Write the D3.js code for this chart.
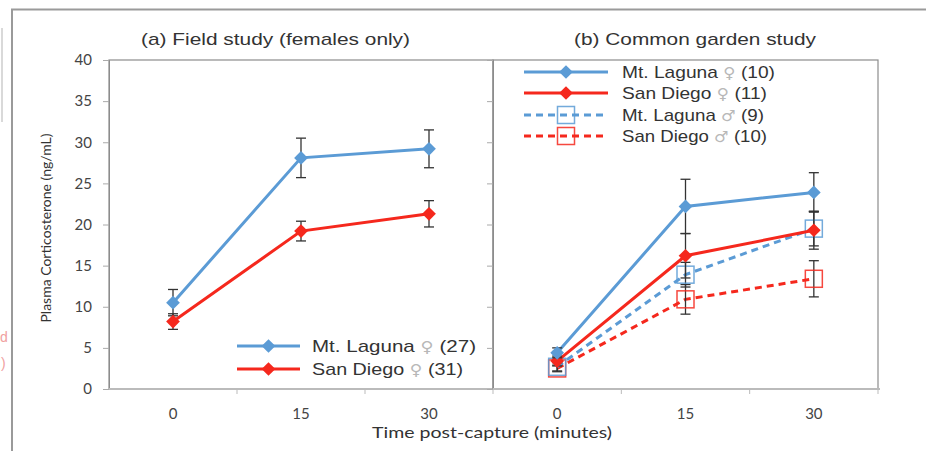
<!DOCTYPE html>
<html>
<head>
<meta charset="utf-8">
<script src="https://cdn.jsdelivr.net/npm/d3@7"></script>
<style>
  body { margin: 0; background: #fff; }
  text { font-family: "Liberation Sans", Arial, sans-serif; fill: #333; }
</style>
</head>
<body>
<svg id="chart"></svg>
<script>
// data
var times = ["0", "15", "30"];
var yTicks = [0, 5, 10, 15, 20, 25, 30, 35, 40];

// (a) field study, females
var fieldMtLaguna = [10.5, 28.1, 29.2];
var fieldMtLagunaErr = [1.6, 2.4, 2.3];
var fieldSanDiego = [8.2, 19.2, 21.3];
var fieldSanDiegoErr = [0.95, 1.2, 1.6];

// (b) common garden study
var gardenMtLagunaF = [4.4, 22.2, 23.9];
var gardenMtLagunaFErr = [0.6, 3.3, 2.4];
var gardenSanDiegoF = [3.4, 16.2, 19.3];
var gardenSanDiegoFErr = [0.6, 2.7, 2.3];
var gardenMtLagunaM = [2.7, 13.9, 19.5];
var gardenMtLagunaMErr = [0.5, 1.5, 2.1];
var gardenSanDiegoM = [2.5, 10.9, 13.4];
var gardenSanDiegoMErr = [0.4, 1.8, 2.2];

var blue = "#5b9bd5", red = "#f5281d", errColor = "#333";

var width = 926, height = 451;
var svg = d3.select('#chart').attr('width', width).attr('height', height);

// page frame + leftovers of the neighbouring page at the edge
svg.append('path')
  .attr('d', 'M12,451 L12,9.5 L926,9.5')
  .attr('fill', 'none').attr('stroke', '#9a9a9a').attr('stroke-width', 2);
svg.append('line').attr('x1', 2).attr('x2', 2).attr('y1', 28).attr('y2', 122)
  .attr('stroke', '#ccc').attr('stroke-width', 1.5);
svg.append('text').attr('x', 0).attr('y', 342).style('font-size', '14px').style('fill', '#f0a0a0').text('d');
svg.append('text').attr('x', 1).attr('y', 368).style('font-size', '14px').style('fill', '#f0a0a0').text(')');

var y = d3.scaleLinear().domain([0, 40]).range([389, 60]);

var panels = [
  { title: "(a) Field study (females only)", tx: 141, tw: 269, x0: 109, x1: 493, labels: true,
    series: [
      { vals: fieldMtLaguna, err: fieldMtLagunaErr, color: blue, dash: null, shape: 'diamond' },
      { vals: fieldSanDiego, err: fieldSanDiegoErr, color: red, dash: null, shape: 'diamond' }
    ] },
  { title: "(b) Common garden study", tx: 574, tw: 242, x0: 493, x1: 878, labels: false,
    series: [
      { vals: gardenSanDiegoM, err: gardenSanDiegoMErr, color: red, dash: '7,5', shape: 'square' },
      { vals: gardenMtLagunaM, err: gardenMtLagunaMErr, color: blue, dash: '7,5', shape: 'square' },
      { vals: gardenSanDiegoF, err: gardenSanDiegoFErr, color: red, dash: null, shape: 'diamond' },
      { vals: gardenMtLagunaF, err: gardenMtLagunaFErr, color: blue, dash: null, shape: 'diamond' }
    ] }
];

function drawMarker(g, shape, color, cx, cy) {
  if (shape === 'diamond') {
    g.append('path')
      .attr('d', d3.symbol(d3.symbolDiamond2, 120)())
      .attr('transform', 'translate(' + cx + ',' + cy + ')')
      .attr('fill', color);
  } else {
    g.append('rect')
      .attr('x', cx - 8.5).attr('y', cy - 8.5).attr('width', 17).attr('height', 17)
      .attr('fill', 'none').attr('stroke', color).attr('stroke-width', 1.5).attr('opacity', 0.85);
  }
}

panels.forEach(function (p) {
  var x = d3.scaleBand().domain(times).range([p.x0, p.x1]);
  var cx = function (t) { return x(t) + x.bandwidth() / 2; };
  var g = svg.append('g');

  // frame
  g.append('rect')
    .attr('x', p.x0).attr('y', y(40)).attr('width', p.x1 - p.x0).attr('height', y(0) - y(40))
    .attr('fill', 'none').attr('stroke', '#8c8c8c').attr('stroke-width', 1.2);

  // y ticks
  var ya = g.append('g').attr('transform', 'translate(' + p.x0 + ',0)')
    .call(d3.axisLeft(y).tickValues(yTicks).tickSize(6).tickFormat(p.labels ? d3.format('d') : ''));
  ya.select('.domain').attr('stroke', '#8c8c8c');
  ya.selectAll('.tick line').attr('stroke', '#aaa');
  ya.selectAll('.tick text').attr('x', -17).style('font-family', 'Lato, sans-serif').style('font-size', '15px').style('fill', '#444');

  // x ticks between categories
  var xa = g.append('g').attr('transform', 'translate(0,' + y(0) + ')');
  xa.append('line').attr('x1', p.x0).attr('x2', p.x1 + 2).attr('stroke', '#bbb').attr('stroke-width', 2);
  times.slice(1).concat(['end']).forEach(function (t) {
    var xp = t === 'end' ? p.x1 : x(t);
    xa.append('line').attr('x1', xp).attr('x2', xp).attr('y1', 0).attr('y2', 5).attr('stroke', '#bbb');
  });
  times.forEach(function (t) {
    xa.append('text').attr('x', cx(t)).attr('y', 30).attr('text-anchor', 'middle')
      .style('font-family', 'Lato, sans-serif').style('font-size', '15px').style('fill', '#444').text(t);
  });

  // title
  g.append('text').attr('x', p.tx).attr('y', 45)
    .attr('textLength', p.tw).attr('lengthAdjust', 'spacingAndGlyphs')
    .style('font-size', '17px').text(p.title);

  p.series.forEach(function (s) {
    var line = d3.line().x(function (d, i) { return cx(times[i]); }).y(function (d) { return y(d); });
    g.append('path').datum(s.vals).attr('d', line)
      .attr('fill', 'none').attr('stroke', s.color).attr('stroke-width', 3)
      .attr('stroke-dasharray', s.dash);
    s.vals.forEach(function (v, i) {
      var xp = cx(times[i]);
      var e = s.err[i];
      var eg = g.append('g').attr('stroke', errColor).attr('stroke-width', 1.3);
      eg.append('line').attr('x1', xp).attr('x2', xp).attr('y1', y(v - e)).attr('y2', y(v + e));
      eg.append('line').attr('x1', xp - 5).attr('x2', xp + 5).attr('y1', y(v - e)).attr('y2', y(v - e));
      eg.append('line').attr('x1', xp - 5).attr('x2', xp + 5).attr('y1', y(v + e)).attr('y2', y(v + e));
      drawMarker(g, s.shape, s.color, xp, y(v));
    });
  });
});

// legends
function legend(items, lx0, lx1, tx, ys) {
  var lg = svg.append('g');
  items.forEach(function (it, i) {
    var ly = ys[i];
    lg.append('line').attr('x1', lx0).attr('x2', lx1).attr('y1', ly).attr('y2', ly)
      .attr('stroke', it.color).attr('stroke-width', 3).attr('stroke-dasharray', it.dash);
    drawMarker(lg, it.shape, it.color, (lx0 + lx1) / 2, ly);
    var t = lg.append('text').attr('x', tx).attr('y', ly + 6).style('font-size', '17px')
      .attr('textLength', it.w).attr('lengthAdjust', 'spacingAndGlyphs');
    t.append('tspan').text(it.name);
    t.append('tspan').style('fill', '#b8b8b8').style('font-family', '"DejaVu Sans", sans-serif')
      .style('font-size', '15px').text(it.sym);
    t.append('tspan').text(it.n);
  });
}

legend([
  { name: 'Mt. Laguna  ', sym: '\u2640', n: '  (27)', w: 164, color: blue, dash: null, shape: 'diamond' },
  { name: 'San Diego  ', sym: '\u2640', n: ' (31)', w: 151, color: red, dash: null, shape: 'diamond' }
], 237, 300, 312, [346, 369]);

legend([
  { name: 'Mt. Laguna ', sym: '\u2640', n: ' (10)', w: 153, color: blue, dash: null, shape: 'diamond' },
  { name: 'San Diego ', sym: '\u2640', n: ' (11)', w: 145, color: red, dash: null, shape: 'diamond' },
  { name: 'Mt. Laguna ', sym: '\u2642', n: ' (9)', w: 142, color: blue, dash: '7,5', shape: 'square' },
  { name: 'San Diego ', sym: '\u2642', n: ' (10)', w: 145, color: red, dash: '7,5', shape: 'square' }
], 524, 608, 622, [72, 93, 115, 136]);

// axis titles
svg.append('text').attr('transform', 'translate(51,228) rotate(-90)').attr('text-anchor', 'middle')
  .style('font-family', 'Lato, sans-serif').style('font-size', '14px').text('Plasma Corticosterone (ng/mL)');
svg.append('text').attr('x', 372).attr('y', 438)
  .attr('textLength', 240).attr('lengthAdjust', 'spacingAndGlyphs')
  .style('font-family', 'Lato, sans-serif').style('font-size', '16px').text('Time post-capture (minutes)');
</script>
</body>
</html>
